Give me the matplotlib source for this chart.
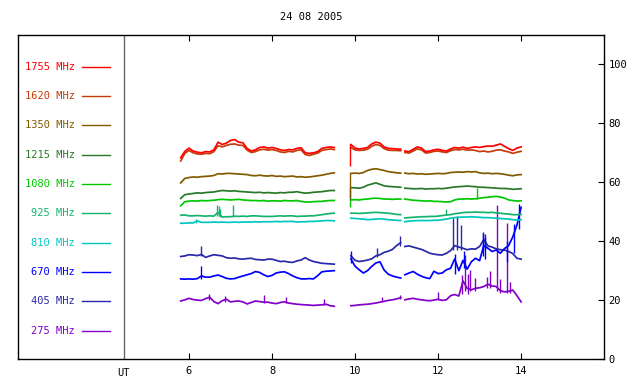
"""
Solar radio flux, 24 08 2005 - ten frequencies, UT hours
"""

import numpy as np
import matplotlib
matplotlib.use('Agg')
import matplotlib.pyplot as plt

plt.rcParams['font.family'] = ['DejaVu Sans Mono']

# %% Data

title = '24 08 2005'

# three observing segments, 0.1 h sampling
t_seg1 = [5.8, 5.9, 6.0, 6.1, 6.2, 6.3, 6.4, 6.5, 6.6, 6.7, 6.8, 6.9, 7.0, 7.1, 7.2, 7.3, 7.4, 7.5, 7.6,
          7.7, 7.8, 7.9, 8.0, 8.1, 8.2, 8.3, 8.4, 8.5, 8.6, 8.7, 8.8, 8.9, 9.0, 9.1, 9.2, 9.3, 9.4, 9.5]
t_seg2 = [9.9, 10.0, 10.1, 10.2, 10.3, 10.4, 10.5, 10.6, 10.7, 10.8, 10.9, 11.0, 11.1]
t_seg3 = [11.2, 11.3, 11.4, 11.5, 11.6, 11.7, 11.8, 11.9, 12.0, 12.1, 12.2, 12.3, 12.4, 12.5, 12.6,
          12.7, 12.8, 12.9, 13.0, 13.1, 13.2, 13.3, 13.4, 13.5, 13.6, 13.7, 13.8, 13.9, 14.0]

freqs = ['1755 MHz', '1620 MHz', '1350 MHz', '1215 MHz', '1080 MHz',
         '925 MHz', '810 MHz', '670 MHz', '405 MHz', '275 MHz']
colors = ['#ff0000', '#c43c0a', '#825a00', '#287828', '#00c800',
          '#14b46e', '#00c8be', '#0000ff', '#2828aa', '#8200c8']

f1755 = [68.3, 70.5, 71.6, 70.6, 70.2, 70.0, 70.4, 70.3, 71.0, 73.6, 72.8, 73.3, 74.2, 74.5, 73.6, 73.4, 71.5, 70.6, 71.0,
         71.8, 72.0, 71.6, 71.8, 71.5, 71.0, 70.8, 71.1, 71.0, 71.5, 71.7, 70.0, 69.8, 70.0, 70.4, 71.5, 71.8, 72.0, 71.8,
         72.8, 71.6, 71.3, 71.5, 71.8, 73.0, 73.6, 73.3, 72.0, 71.5, 71.4, 71.3, 71.2,
         70.6, 70.4, 71.2, 72.0, 71.6, 70.4, 70.6, 71.0, 71.2, 70.8, 70.6, 71.3, 71.8, 71.6, 71.9,
         71.5, 71.8, 72.0, 71.8, 72.1, 72.3, 72.2, 72.6, 73.0, 72.2, 71.4, 70.8, 71.6, 72.0]
f1620 = [67.2, 69.8, 70.8, 70.0, 69.6, 69.5, 69.8, 69.7, 70.4, 72.4, 72.0, 72.5, 72.9, 73.0, 72.6, 72.5, 70.9, 70.1, 70.4,
         71.0, 71.2, 70.9, 71.1, 70.8, 70.3, 70.1, 70.5, 70.3, 70.8, 71.0, 69.4, 69.1, 69.5, 69.9, 70.8, 71.1, 71.3, 71.1,
         71.8, 71.0, 70.8, 70.9, 71.2, 72.2, 72.8, 72.5, 71.4, 70.9, 70.8, 70.8, 70.7,
         70.1, 69.9, 70.6, 71.3, 71.0, 69.9, 70.1, 70.5, 70.6, 70.3, 70.1, 70.7, 71.1, 71.0, 71.2,
         70.9, 71.0, 70.8, 70.4, 70.6, 70.3, 70.5, 70.9, 71.0, 70.6, 70.3, 69.8, 70.2, 70.5]
f1350 = [59.8, 61.3, 61.6, 61.8, 61.7, 61.9, 62.0, 62.1, 62.3, 62.9, 62.8, 63.0, 63.0, 62.9, 62.8, 62.7, 62.6, 62.3, 62.2,
         62.4, 62.2, 62.1, 62.3, 62.0, 62.1, 61.9, 62.0, 62.1, 61.8, 61.9, 61.7, 61.8, 62.0, 62.2, 62.4, 62.7, 63.0, 63.2,
         63.0, 63.1, 63.0, 63.3, 64.0, 64.4, 64.6, 64.3, 64.0, 63.6, 63.4, 63.2, 63.1,
         63.1, 62.9, 63.0, 62.8, 62.9, 62.7, 62.8, 62.9, 63.0, 62.9, 63.0, 63.3, 63.4, 63.5, 63.4,
         63.6, 63.5, 63.6, 63.2, 63.0, 63.1, 62.9, 63.0, 62.9, 62.7, 62.4, 62.2, 62.5, 62.6]
f1215 = [54.5, 55.8, 56.0, 56.2, 56.4, 56.3, 56.5, 56.6, 56.7, 57.0, 57.2, 57.1, 57.0, 57.1, 56.9, 56.8, 56.7, 56.6, 56.5,
         56.6, 56.4, 56.5, 56.4, 56.3, 56.5, 56.4, 56.6, 56.6, 56.8, 56.5, 56.3, 56.4, 56.6, 56.7, 56.8, 57.0, 57.2, 57.2,
         58.2, 58.1, 58.0, 58.3, 59.0, 59.4, 59.8, 59.3, 58.8, 58.6, 58.5, 58.4, 58.3,
         58.0, 57.9, 57.8, 57.8, 57.9, 57.7, 57.8, 57.8, 57.9, 57.8, 58.0, 58.2, 58.4, 58.5, 58.6,
         58.7, 58.6, 58.5, 58.3, 58.3, 58.2, 58.1, 58.0, 57.9, 57.9, 57.8, 57.6, 57.7, 57.8]
f1080 = [52.0, 53.4, 53.6, 53.7, 53.6, 53.8, 53.7, 53.8, 53.9, 54.1, 54.2, 54.1, 54.0, 54.1, 54.2, 54.0, 53.9, 53.8, 53.8,
         53.7, 53.8, 53.6, 53.7, 53.7, 53.6, 53.8, 53.7, 53.7, 53.8, 53.5, 53.3, 53.3, 53.4, 53.5, 53.5, 53.7, 53.8, 53.8,
         54.0, 54.1, 54.0, 54.2, 54.3, 54.5, 54.6, 54.5, 54.3, 54.3, 54.2, 54.3, 54.3,
         54.3, 54.1, 53.9, 53.8, 53.7, 53.6, 53.7, 53.5, 53.5, 53.4, 53.3, 53.4, 54.0, 54.3, 54.3,
         54.4, 54.3, 54.4, 54.6, 54.8, 54.9, 55.1, 55.2, 55.0, 54.6, 54.0, 53.8, 53.6, 53.7]
f925 = [48.8, 48.9, 48.6, 48.6, 48.7, 48.6, 48.5, 48.6, 48.5, 49.8, 48.2, 48.3, 48.3, 48.5, 48.4, 48.5, 48.4, 48.6, 48.6,
        48.5, 48.4, 48.4, 48.4, 48.5, 48.6, 48.5, 48.6, 48.6, 48.4, 48.5, 48.5, 48.6, 48.6, 48.8, 49.0, 49.2, 49.4, 49.5,
        49.5, 49.5, 49.4, 49.5, 49.6, 49.7, 49.8, 49.7, 49.6, 49.5, 49.3, 49.1, 49.0,
        47.9, 48.0, 48.1, 48.2, 48.3, 48.3, 48.4, 48.4, 48.5, 48.7, 48.9, 49.0, 49.3, 49.5, 49.7,
        49.8, 49.8, 49.9, 49.8, 49.8, 49.7, 49.8, 49.6, 49.5, 49.3, 49.2, 49.0, 49.0, 49.1]
f810 = [46.1, 46.1, 46.2, 46.2, 46.9, 46.4, 46.4, 46.4, 46.5, 46.4, 46.5, 46.4, 46.4, 46.5, 46.4, 46.5, 46.5, 46.5, 46.6,
        46.5, 46.6, 46.6, 46.6, 46.7, 46.6, 46.7, 46.7, 46.7, 46.5, 46.6, 46.6, 46.7, 46.7, 46.8, 46.9, 47.0, 47.0, 46.9,
        47.8, 47.7, 47.6, 47.5, 47.3, 47.4, 47.5, 47.6, 47.5, 47.3, 47.2, 47.1, 47.0,
        46.6, 46.8, 46.9, 47.0, 47.0, 47.0, 47.0, 47.1, 47.1, 47.3, 47.5, 47.8, 48.0, 48.1, 48.2,
        48.2, 48.3, 48.2, 48.1, 48.0, 48.0, 47.9, 47.8, 47.7, 47.6, 47.5, 47.3, 47.2, 47.3]
f670 = [27.2, 27.1, 27.2, 27.1, 27.3, 28.2, 27.8, 27.8, 28.2, 28.5, 28.0, 27.4, 27.2, 27.3, 27.8, 28.2, 28.6, 29.0, 29.7,
        29.4, 28.6, 28.0, 28.4, 29.2, 29.5, 29.6, 29.0, 28.2, 27.6, 27.2, 27.2, 27.3, 27.2, 28.3, 29.6, 29.8, 29.9, 30.0,
        34.0, 31.5, 30.3, 29.2, 30.0, 31.4, 32.6, 33.0, 30.2, 28.8, 28.2, 27.8, 27.5,
        28.6, 29.2, 29.7, 28.8, 28.1, 27.6, 27.3, 29.8, 29.0, 29.2, 30.3, 30.8, 34.0, 30.0, 33.5,
        30.5, 33.0, 34.2, 33.4, 38.5, 37.6, 36.5, 37.0, 35.9, 37.5, 38.5, 41.5, 45.5, 51.5]
f405 = [34.8, 35.0, 35.4, 35.3, 35.1, 35.5, 34.5, 35.0, 35.4, 35.2, 35.0, 34.4, 34.2, 34.3, 34.0, 33.9, 34.1, 34.2, 33.8,
        33.7, 33.6, 33.9, 33.9, 33.5, 33.1, 33.2, 32.9, 32.8, 33.3, 33.6, 34.4, 33.6, 33.1, 32.8, 32.5, 32.4, 32.3, 32.2,
        35.0, 33.5, 33.1, 33.3, 33.6, 34.0, 35.0, 35.4, 36.2, 36.6, 37.2, 38.5, 39.5,
        38.2, 38.4, 38.0, 37.6, 37.2, 36.6, 35.9, 35.6, 35.4, 35.3, 35.9, 36.8, 38.5, 38.0, 37.6,
        37.1, 37.4, 37.3, 38.2, 40.5, 38.4, 38.0, 37.4, 37.1, 37.0, 36.5, 35.8, 34.2, 33.9]
f275 = [19.7, 20.1, 20.6, 20.2, 20.0, 19.9, 20.5, 21.0, 19.5, 18.8, 19.8, 20.3, 19.4, 19.6, 19.7, 19.4, 18.7, 19.2, 19.7,
        19.5, 19.3, 19.3, 19.0, 18.8, 19.2, 19.4, 19.0, 18.8, 18.6, 18.5, 18.4, 18.3, 18.2, 18.3, 18.4, 18.6, 18.1, 17.9,
        18.1, 18.2, 18.4, 18.5, 18.6, 18.8, 19.0, 19.3, 19.6, 19.9, 20.1, 20.4, 20.8,
        20.1, 20.4, 20.6, 20.3, 20.1, 19.9, 19.8, 20.0, 20.3, 19.9, 20.1, 21.5, 21.9, 21.4, 26.5,
        24.0, 23.5, 24.0, 24.2, 24.6, 25.4, 24.8, 24.6, 23.2, 22.8, 23.0, 23.4, 21.5, 19.4]

series = [f1755, f1620, f1350, f1215, f1080, f925, f810, f670, f405, f275]

# short spikes (time, low, high) per frequency
spk1755 = [(9.88, 65.4, 73.0)]
spk1350 = [(9.88, 54.8, 63.2)]
spk1215 = [(9.88, 54.1, 58.4)]
spk1080 = [(9.88, 51.6, 54.1), (12.94, 54.3, 58.2)]
spk925 = [(6.67, 48.5, 52.4), (6.72, 48.4, 52.0), (6.75, 48.3, 51.0), (7.06, 48.3, 52.4), (12.2, 48.9, 50.8)]
spk810 = [(6.18, 46.2, 47.5)]
spk670 = [(6.29, 27.3, 31.6), (9.9, 32.5, 36.5), (12.41, 29.0, 35.5), (12.62, 31.0, 36.5), (13.09, 35.0, 42.8),
          (13.14, 34.0, 41.5), (13.65, 33.0, 40.0), (13.83, 36.0, 46.0), (13.95, 44.0, 52.5)]
spk405 = [(6.29, 35.0, 38.4), (10.52, 34.5, 37.6), (11.08, 38.5, 41.6), (12.37, 37.0, 47.8), (12.45, 37.0, 48.4),
          (12.55, 37.0, 45.6), (13.09, 38.0, 43.0), (13.13, 37.0, 42.5)]
spk275 = [(6.48, 20.0, 22.2), (6.86, 19.5, 21.4), (7.8, 19.0, 21.8), (8.34, 19.0, 21.0), (9.26, 18.3, 20.4),
          (10.64, 19.2, 21.0), (11.08, 20.3, 21.8), (12.0, 20.0, 22.9), (12.57, 22.0, 28.5), (12.65, 23.0, 35.4),
          (12.72, 22.0, 29.0), (12.77, 23.0, 30.3), (12.9, 23.0, 27.5), (13.17, 24.0, 28.0), (13.25, 24.0, 30.0),
          (13.41, 23.0, 52.4), (13.5, 22.5, 27.0), (13.65, 22.5, 46.1), (13.74, 22.5, 26.0)]
spikes = [spk1755, [], spk1350, spk1215, spk1080, spk925, spk810, spk670, spk405, spk275]

x_ticks = [6, 8, 10, 12, 14]
y_ticks = [0, 20, 40, 60, 80, 100]

# %% Plot

fig = plt.figure(figsize=(6.4, 3.84), dpi=100)
ax = fig.add_axes([0.028, 0.065, 0.916, 0.844])

n1, n2 = len(t_seg1), len(t_seg2)
for vals, spk, col in zip(series[::-1], spikes[::-1], colors[::-1]):
    for t, v in ((t_seg1, vals[:n1]), (t_seg2, vals[n1:n1 + n2]), (t_seg3, vals[n1 + n2:])):
        ax.plot(t, v, color=col, linewidth=1.25)
    if spk:
        st, lo, hi = zip(*spk)
        ax.vlines(st, lo, hi, color=col, linewidth=1.0)

# legend block on the left
ut_x = 4.43
ax.axvline(ut_x, color='#666666', linewidth=1.0)
for i, (name, col) in enumerate(zip(freqs, colors)):
    yy = 99.2 - 9.95 * i
    ax.plot([3.42, 4.10], [yy, yy], color=col, linewidth=1.0)
    ax.text(3.26, yy, name, color=col, fontsize=7.5, ha='right', va='center')

ax.set_xlim(1.88, 16.0)
ax.set_ylim(0, 110)
ax.set_xticks(x_ticks)
ax.set_xticklabels([str(v) for v in x_ticks], fontsize=7.5)
ax.tick_params(axis='x', direction='in', top=True, length=4, pad=5)
ax.yaxis.tick_right()
ax.set_yticks(y_ticks)
ax.set_yticklabels([str(v) for v in y_ticks], fontsize=7.5)
ax.tick_params(axis='y', direction='in', right=True, left=False, length=4, pad=3)
for s in ax.spines.values():
    s.set_linewidth(1.0)

ax.text(ut_x, -3.1, 'UT', fontsize=7.5, ha='center', va='top')
fig.text(0.486, 0.956, title, fontsize=7.5, ha='center', va='center')

fig.savefig('out.png', dpi=100)
